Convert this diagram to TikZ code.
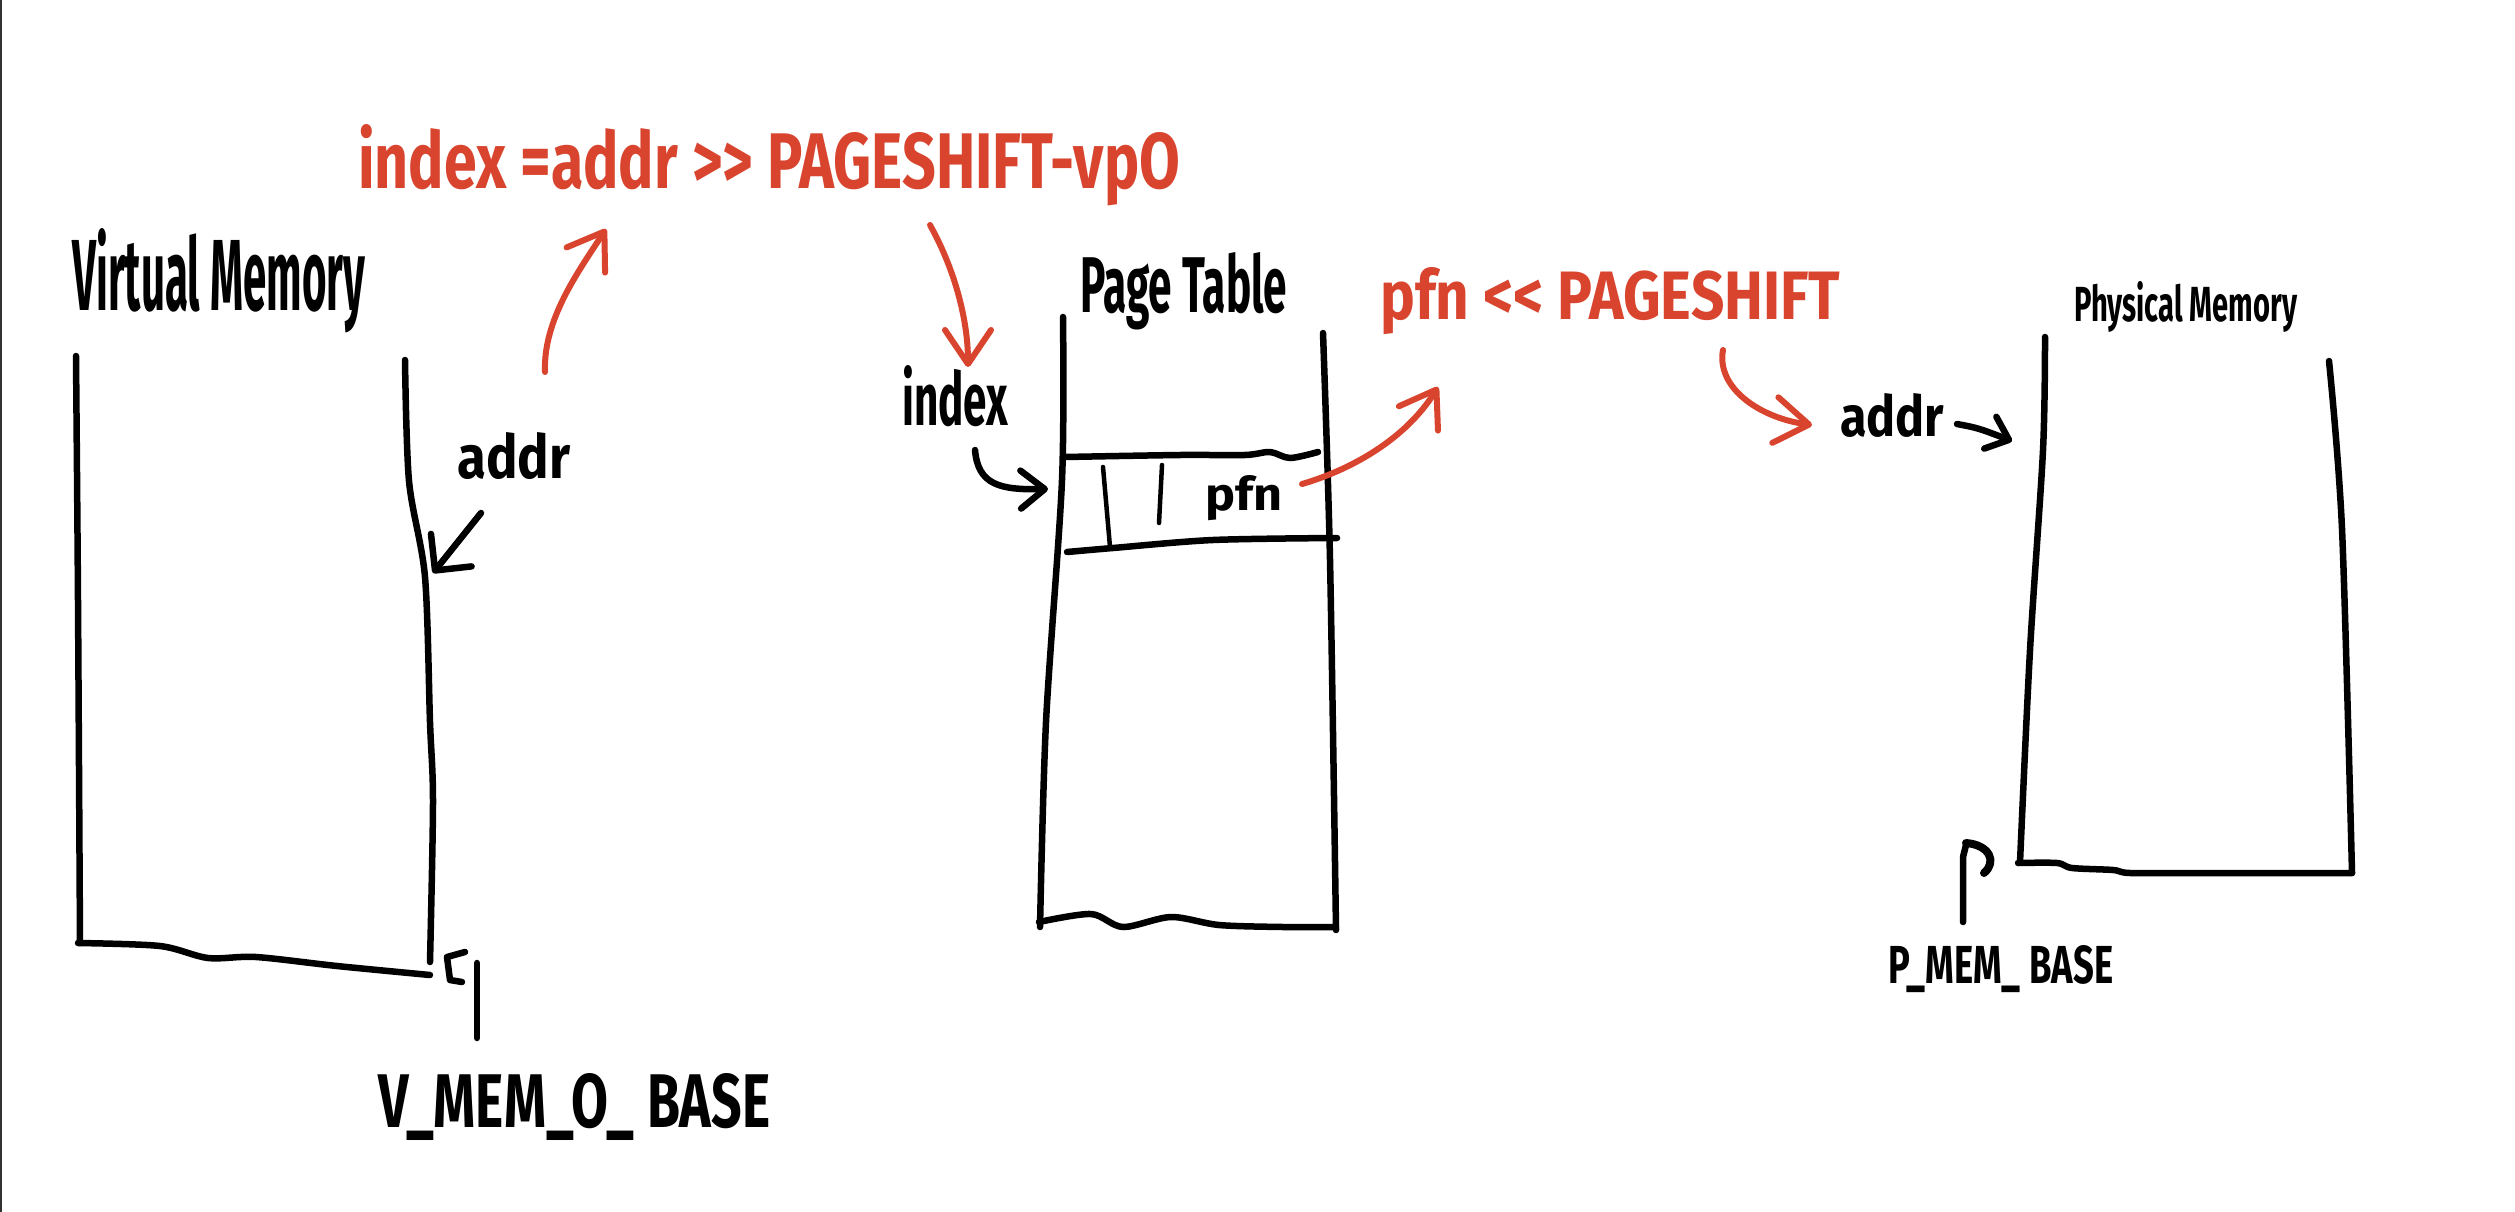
\documentclass[tikz,border=0pt]{standalone}
\usepackage{fontspec}
\setmainfont{Fira Sans}
\usetikzlibrary{arrows.meta}
\definecolor{redpen}{RGB}{217,68,46}
\newcommand\hw[3]{\resizebox{#1pt}{#2pt}{#3}}
\begin{document}
\begin{tikzpicture}[x=1pt,y=-1pt,
  ink/.style={draw=black,line width=6.5pt,line cap=round,line join=round},
  thinink/.style={draw=black,line width=4.5pt,line cap=round},
  redink/.style={draw=redpen,line width=6pt,line cap=round,line join=round},
  lbl/.style={inner sep=0pt,anchor=base west,font=\bfseries},
  redlbl/.style={lbl,text=redpen},
  redarrow/.style={redink,-{Straight Barb[length=34pt,width=46pt,round]}},
  blackarrow/.style={ink,-{Straight Barb[length=24pt,width=38pt,round]}}]
\fill[white] (0,0) rectangle (2515,1212);
\useasboundingbox (0,0) rectangle (2515,1212);
\draw[draw={rgb,255:red,50;green,50;blue,50},line width=2.5pt] (1,0) -- (1,1212);

% ---------- labels ----------
\node[redlbl] (formula) at (358,188) {\hw{822}{64}{index =addr >{}> PAGESHIFT-vpO}};
\node[lbl] (vmlabel) at (72,310) {\hw{293}{82}{Virtual Memory}};
\node[lbl] (vaddr) at (457,478) {\hw{113}{46}{addr}};
\node[lbl] (vbase) at (378,1127) {\hw{392}{54}{V\_MEM\_O\_ BASE}};
\node[lbl] (index) at (902,425) {\hw{106}{60}{index}};
\node[lbl] (ptlabel) at (1080,312) {\hw{207}{60}{Page Table}};
\node[lbl] (pfnrow) at (1205,510) {\hw{77}{35}{pfn}};
\node[redlbl] (shiftl) at (1380,319) {\hw{460}{52}{pfn <{}< PAGESHIFT}};
\node[lbl] (paddr) at (1840,436) {\hw{104}{43}{addr}};
\node[lbl] (pmlabel) at (2074,321) {\hw{223}{40}{Physical Memory}};
\node[lbl] (pbase) at (1888,983) {\hw{225}{38}{P\_MEM\_ BASE}};

% ---------- virtual memory box ----------
\draw[ink] plot[smooth] coordinates {(76,356) (78,600) (80,943)};
\draw[ink] plot[smooth] coordinates {(405,360) (409,481) (425,577) (430,722) (433,802) (430,962)};
\draw[ink] plot[smooth] coordinates {(78,943) (160,946) (208,958) (256,957) (337,966) (430,975)};

% ---------- page table ----------
\draw[ink] plot[smooth] coordinates {(1063,317) (1062,480) (1046,722) (1040,927)};
\draw[ink] plot[smooth] coordinates {(1323,333) (1330,560) (1336,930)};
\draw[ink] plot[smooth] coordinates {(1039,922) (1091,914) (1123,927) (1171,917) (1219,925) (1283,927) (1336,927)};
\draw[ink] plot[smooth] coordinates {(1065,457) (1180,455) (1245,455) (1270,452) (1290,458) (1318,452)};
\draw[ink] plot[smooth] coordinates {(1067,552) (1113,548) (1213,540) (1337,538)};
\draw[thinink] (1103,467) -- (1110,547);
\draw[thinink] (1162,465) -- (1159,523);

% ---------- physical memory ----------
\draw[ink] plot[smooth] coordinates {(2045,337) (2043,450) (2030,650) (2020,862)};
\draw[ink] plot[smooth] coordinates {(2329,361) (2342,529) (2352,873)};
\draw[ink] plot[smooth] coordinates {(2018,863) (2057,863) (2072,868) (2113,870) (2130,873) (2197,873) (2352,873)};

% ---------- connector end points ----------
\coordinate (vaddrOut) at (481,513);
\coordinate (vaddrIn) at (433,573);
\coordinate (r1s) at (545,372);
\coordinate (r1e) at (606,229);
\coordinate (r2s) at (930,225);
\coordinate (r2e) at (968,367);
\coordinate (ixs) at (975,450);
\coordinate (ixe) at (1048,489);
\coordinate (r3s) at (1302,484);
\coordinate (r3e) at (1438,387);
\coordinate (r4s) at (1723,350);
\coordinate (r4e) at (1812,425);
\coordinate (pas) at (1957,424);
\coordinate (pae) at (2012,441);
\coordinate (vbs) at (477,1038);
\coordinate (vbe) at (477,963);
\coordinate (pbs) at (1963,922);
\coordinate (pbe) at (1963,857);

% ---------- black arrows ----------
\draw[ink,-{Straight Barb[length=26pt,width=52pt,round]}] (vaddrOut) -- (vaddrIn);
\draw[blackarrow] (ixs) .. controls (978,485) and (1000,490) .. (ixe);
\draw[ink,-{Straight Barb[length=20pt,width=34pt,round]}] (pas) .. controls (1978,428) .. (pae);
\draw[ink] (vbs) -- (vbe);
\draw[ink] (465,952) -- (447,957) -- (450,980) -- (462,982);
\draw[ink] (pbs) -- (pbe) -- (1966,845);
\draw[ink,line width=8pt] (1966,843) .. controls (1990,845) and (1997,862) .. (1984,873);

% ---------- red arrows ----------
\draw[redarrow] (r1s) .. controls (543,320) and (578,272) .. (r1e);
\draw[redarrow] (r2s) .. controls (955,270) and (968,320) .. (r2e);
\draw[redarrow] (r3s) .. controls (1350,470) and (1405,440) .. (r3e);
\draw[redarrow] (r4s) .. controls (1716,388) and (1760,418) .. (r4e);
\end{tikzpicture}
\end{document}
